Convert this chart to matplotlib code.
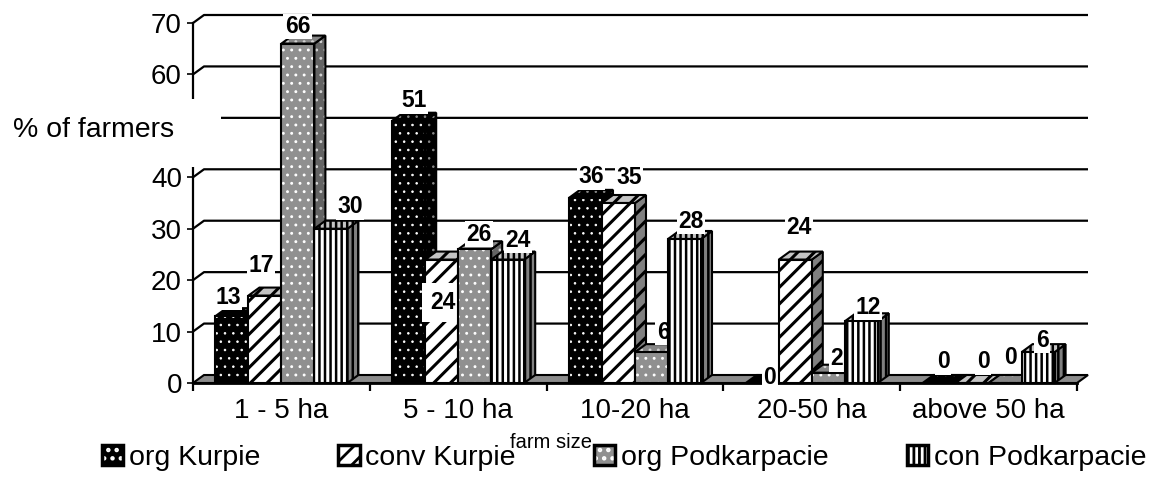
import matplotlib
matplotlib.use("Agg")
import matplotlib.pyplot as plt
import numpy as np
from matplotlib.patches import Polygon, Rectangle, Patch
from matplotlib.legend_handler import HandlerTuple

plt.rcParams['font.family'] = ['Liberation Sans', 'DejaVu Sans']
plt.rcParams['hatch.linewidth'] = 2.0

# data
categories = ['1 - 5 ha', '5 - 10 ha', '10-20 ha', '20-50 ha', 'above 50 ha']
series = ['org Kurpie', 'conv Kurpie', 'org Podkarpacie', 'con Podkarpacie']
org_kurpie = [13, 51, 36, 0, 0]
conv_kurpie = [17, 24, 35, 24, 0]
org_podk = [66, 26, 6, 2, 0]
con_podk = [30, 24, 28, 12, 6]
values = [org_kurpie, conv_kurpie, org_podk, con_podk]
yticks = [0, 10, 20, 30, 40, 50, 60, 70]
ytick_labels = ['0', '10', '20', '30', '40', '', '60', '70']

# label nudges in pixels (dx, dy up), per category, per series
lab_off = [[(-9.5, -1), (-9.5, 10), (-6, -3), (13.5, 2)],
           [(0, 0), (-4, -63), (-1, -5), (5, -1)],
           [(0, 1), (5, 6), (6, 0), (1, -2)],
           [(2, -14), (-2, 12), (3, -6), (1, -6)],
           [(-1.5, 1), (5.5, 1), (0, 5), (-1.5, -8)]]

# face styles: front fc, hatch, hatch color, top fc, side fc, side/top hatch color, hatch lw
styles = [
    ('black', '..', 'white', 'black', 'black', '#888888', 0.6),
    ('white', '//', 'black', '#c4c4c4', '#808080', 'black', 2.2),
    ('#909090', '..', 'white', '#858585', '#646464', '#d0d0d0', 0.9),
    ('white', '|||', 'black', '#c4c4c4', '#808080', 'black', 1.8),
]

W, H = 1163, 478
fig = plt.figure(figsize=(W / 100, H / 100), dpi=100)
x_l, x_r, y_b, y_t = 193, 1077, 383, 23
ax = fig.add_axes([x_l / W, (H - y_b) / H, (x_r - x_l) / W, (y_b - y_t) / H])
ax.set_xlim(0, 5)
ax.set_ylim(0, 70)
for s in ax.spines.values():
    s.set_visible(False)

ncat = len(categories)
px_x = (x_r - x_l) / ncat
px_y = (y_b - y_t) / 70
ddx = 11 / px_x
ddy = 8 / px_y
w = 33 / px_x
lw = 1.5


def hlw(p, v):
    if hasattr(p, 'set_hatch_linewidth'):
        p.set_hatch_linewidth(v)
    return p


# floor
floor = Polygon([(0, 0), (ncat, 0), (ncat + ddx, ddy), (ddx, ddy)], closed=True,
                fc='#8c8c8c', ec='black', lw=lw, zorder=1, clip_on=False)
ax.add_patch(floor)
ax.plot([0, ncat], [0, 0], color='black', lw=2, zorder=1.1, clip_on=False)

# back wall gridlines
for v in yticks[1:]:
    ax.plot([0, ddx, ncat + ddx], [v, v + ddy, v + ddy], color='black', lw=1.6,
            zorder=0.5, clip_on=False, solid_capstyle='butt')
ax.plot([0, 0], [0, 70], color='black', lw=1.6, zorder=0.6, clip_on=False)


def face(verts, fc, hatch, hc, z, hw):
    ax.add_patch(hlw(Polygon(verts, closed=True, fc=fc, ec=hc, lw=0, hatch=hatch,
                             zorder=z, clip_on=False), hw))
    ax.add_patch(Polygon(verts, closed=True, fill=False, ec='black', lw=lw,
                         zorder=z + 0.01, clip_on=False, joinstyle='miter'))


for c in range(ncat):
    for k in range(len(series)):
        h = values[k][c]
        fc, hatch, hc, tfc, sfc, shc, hw = styles[k]
        x0 = c + 0.5 - 2 * w + k * w
        x1 = x0 + w
        z = 2 + k * 0.1
        face([(x1, 0), (x1 + ddx, ddy), (x1 + ddx, h + ddy), (x1, h)], sfc, hatch, shc, z, hw)
        face([(x0, h), (x1, h), (x1 + ddx, h + ddy), (x0 + ddx, h + ddy)], tfc, hatch, shc, z + 0.02, hw)
        bars = ax.bar(x0, h, width=w, align='edge', color=fc, edgecolor=hc, lw=0, hatch=hatch,
                      zorder=z + 0.04, clip_on=False)
        for b in bars:
            hlw(b, hw)
        ax.bar(x0, h, width=w, align='edge', fill=False, edgecolor='black', lw=lw,
               zorder=z + 0.05, clip_on=False)
        ox, oy = lab_off[c][k]
        pad = 6.0 if oy < -40 else 1.0
        ax.annotate(str(h), xy=(x0 + w / 2 + ddx / 2, h + ddy), xytext=(ox, 12 + oy),
                    textcoords='offset pixels', ha='center', va='center',
                    fontsize=16.5, fontweight='bold', zorder=z + 0.07,
                    bbox=dict(fc='white', ec='none', pad=pad), annotation_clip=False)

# ticks
ax.set_yticks(yticks)
ax.set_yticklabels(ytick_labels)
ax.tick_params(axis='y', length=4.5, width=1.2, pad=3.5, labelsize=20)
ax.set_xticks(range(ncat + 1))
ax.set_xticklabels([])
ax.tick_params(axis='x', which='major', length=6, width=1.6)
ax.set_xticks(np.arange(ncat) + 0.5, minor=True)
ax.set_xticklabels(categories, minor=True)
ax.tick_params(axis='x', which='minor', length=0, pad=11, labelsize=20)

# y label with white box over the axis
fig.patches.append(Rectangle((0, 1 - 167 / H), 221 / W, 68 / H, transform=fig.transFigure,
                             fc='white', ec='none', zorder=5))
fig.text(13 / W, 1 - 130 / H, '% of farmers', fontsize=20.5, ha='left', va='center', zorder=6)
fig.text(551 / W, 1 - 443 / H, 'farm size', fontsize=14.5, ha='center', va='center', zorder=6)

# legend
handles = []
for k in range(len(series)):
    fc, hatch, hc, tfc, sfc, shc, hw = styles[k]
    handles.append((hlw(Patch(fc=fc, ec=hc, lw=0, hatch=hatch), hw),
                    Patch(fill=False, ec='black', lw=2.5)))
leg = fig.legend(handles, series, loc='center left', bbox_to_anchor=(102 / W, 1 - 458 / H),
                 ncol=4, frameon=False, fontsize=20.5, handlelength=0.74, handleheight=0.7,
                 handletextpad=0.21, columnspacing=2.74, borderpad=0, borderaxespad=0,
                 handler_map={tuple: HandlerTuple(ndivide=1, pad=0)})

fig.savefig('out.png', dpi=100)
